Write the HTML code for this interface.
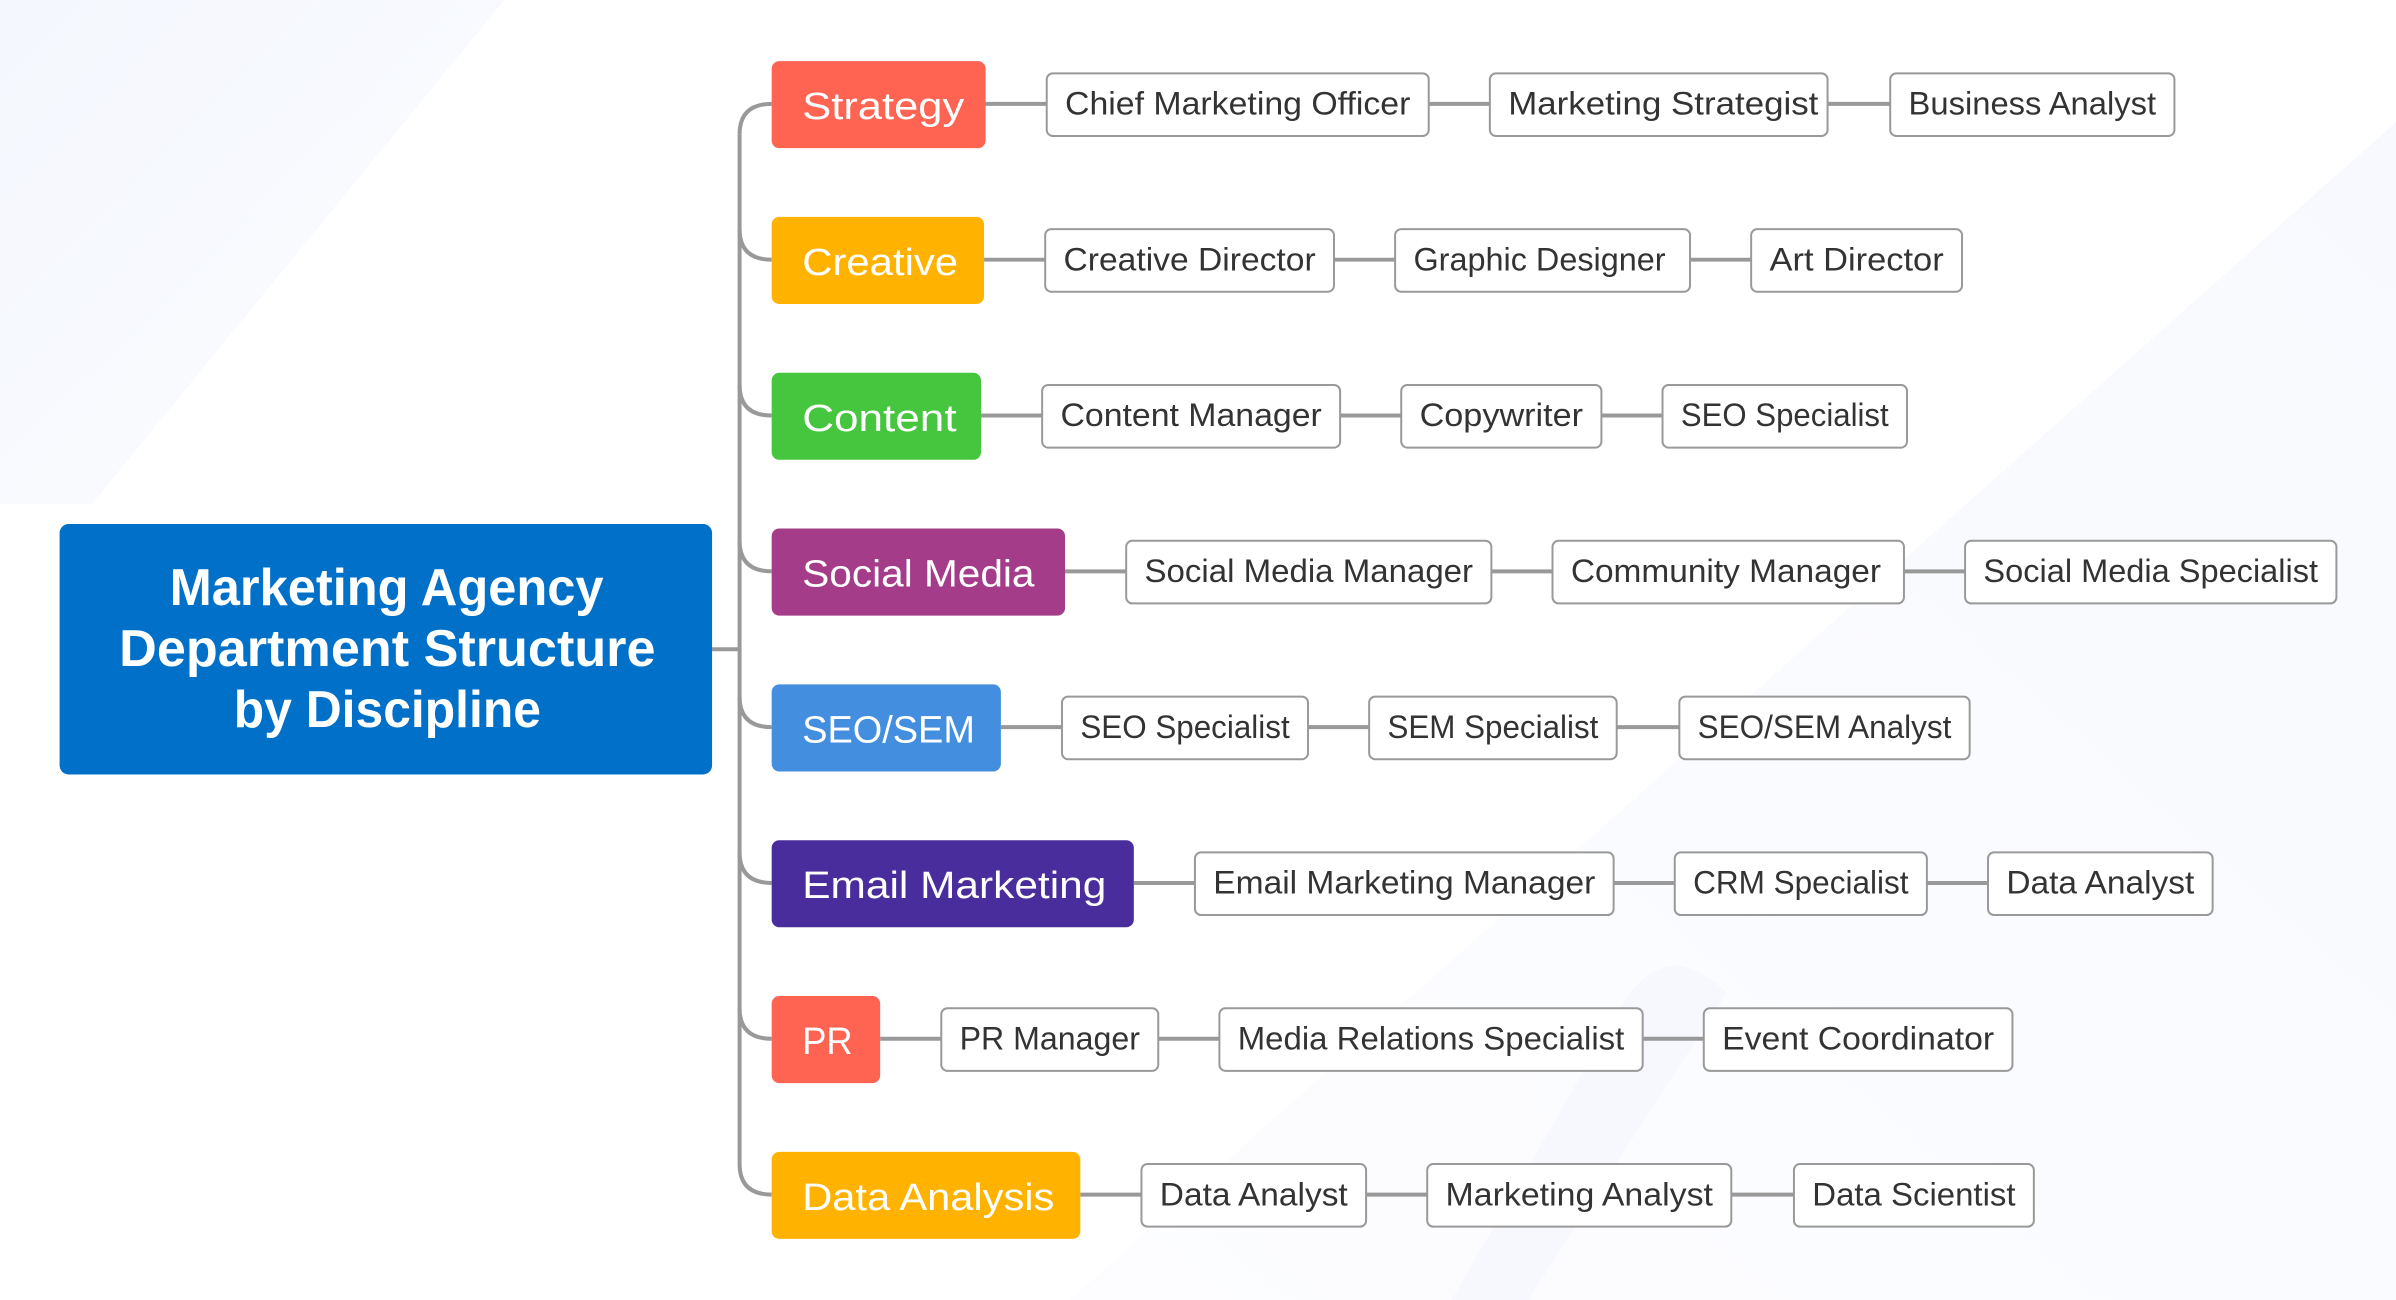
<!DOCTYPE html>
<html><head><meta charset="utf-8"><style>
html,body{margin:0;padding:0;background:#fff;width:2396px;height:1300px;overflow:hidden}
svg{display:block}
.c{font-family:"Liberation Sans",sans-serif;font-size:21px;fill:#333}
.k{font-family:"Liberation Sans",sans-serif;font-size:25px;fill:#fff}
.b{fill:#fff;stroke:#999;stroke-width:1.3}
.l{stroke:#999;stroke-width:2.6;fill:none}
</style></head><body>
<svg width="2396" height="1300" viewBox="0 0 1568 851" preserveAspectRatio="none">
<defs>
<linearGradient id="g1" x1="0" y1="0" x2="1" y2="1"><stop offset="0" stop-color="#f4f7fd"/><stop offset="1" stop-color="#fbfcff"/></linearGradient>
<linearGradient id="g2" x1="1" y1="0" x2="0" y2="1"><stop offset="0" stop-color="#f7f9fe"/><stop offset="1" stop-color="#fdfdff"/></linearGradient>
</defs>
<polygon points="0,0 330,0 60,330 0,330" fill="url(#g1)"/>
<polygon points="1568,80 1568,851 700,851" fill="url(#g2)"/>
<path d="M950,851 L1060,660 Q1090,610 1130,650 L1000,851Z" fill="#f6f8fd"/>
<g class="l">
<line x1="466" y1="425" x2="484" y2="425"/>
<line x1="484" y1="88" x2="484" y2="762"/>
<path d="M505,68 Q484,68 484,88"/>
<path d="M484,762 Q484,782 505,782"/>
<path d="M484,150 Q484,170 505,170"/>
<path d="M484,252 Q484,272 505,272"/>
<path d="M484,354 Q484,374 505,374"/>
<path d="M484,456 Q484,476 505,476"/>
<path d="M484,558 Q484,578 505,578"/>
<path d="M484,660 Q484,680 505,680"/>
<line x1="645" y1="68" x2="1237" y2="68"/>
<line x1="644" y1="170" x2="1146" y2="170"/>
<line x1="642" y1="272" x2="1088" y2="272"/>
<line x1="697" y1="374" x2="1286" y2="374"/>
<line x1="655" y1="476" x2="1099" y2="476"/>
<line x1="742" y1="578" x2="1301" y2="578"/>
<line x1="576" y1="680" x2="1115" y2="680"/>
<line x1="707" y1="782" x2="1174" y2="782"/>
</g>
<rect x="39" y="343" width="427" height="164" rx="6" fill="#0070C8"/>
<g font-family="Liberation Sans,sans-serif" font-weight="bold" font-size="34" fill="#fff">
<text x="111" y="396" textLength="284" lengthAdjust="spacingAndGlyphs">Marketing Agency</text>
<text x="78" y="436" textLength="351" lengthAdjust="spacingAndGlyphs">Department Structure</text>
<text x="153" y="476" textLength="201" lengthAdjust="spacingAndGlyphs">by Discipline</text>
</g>
<rect x="505" y="40" width="140" height="57" rx="5" fill="#FF6352"/>
<text class="k" x="525" y="78" textLength="106" lengthAdjust="spacingAndGlyphs">Strategy</text>
<rect x="505" y="142" width="139" height="57" rx="5" fill="#FFB300"/>
<text class="k" x="525" y="180" textLength="102" lengthAdjust="spacingAndGlyphs">Creative</text>
<rect x="505" y="244" width="137" height="57" rx="5" fill="#46C63E"/>
<text class="k" x="525" y="282" textLength="101" lengthAdjust="spacingAndGlyphs">Content</text>
<rect x="505" y="346" width="192" height="57" rx="5" fill="#A53C8A"/>
<text class="k" x="525" y="384" textLength="152" lengthAdjust="spacingAndGlyphs">Social Media</text>
<rect x="505" y="448" width="150" height="57" rx="5" fill="#438EDF"/>
<text class="k" x="525" y="486" textLength="113" lengthAdjust="spacingAndGlyphs">SEO/SEM</text>
<rect x="505" y="550" width="237" height="57" rx="5" fill="#4A2D9C"/>
<text class="k" x="525" y="588" textLength="199" lengthAdjust="spacingAndGlyphs">Email Marketing</text>
<rect x="505" y="652" width="71" height="57" rx="5" fill="#FF6352"/>
<text class="k" x="525" y="690" textLength="33" lengthAdjust="spacingAndGlyphs">PR</text>
<rect x="505" y="754" width="202" height="57" rx="5" fill="#FFB300"/>
<text class="k" x="525" y="792" textLength="165" lengthAdjust="spacingAndGlyphs">Data Analysis</text>
<g>
<rect class="b" x="685" y="48" width="250" height="41" rx="4"/><text class="c" x="697" y="75" textLength="226" lengthAdjust="spacingAndGlyphs">Chief Marketing Officer</text>
<rect class="b" x="975" y="48" width="221" height="41" rx="4"/><text class="c" x="987" y="75" textLength="203" lengthAdjust="spacingAndGlyphs">Marketing Strategist</text>
<rect class="b" x="1237" y="48" width="186" height="41" rx="4"/><text class="c" x="1249" y="75" textLength="162" lengthAdjust="spacingAndGlyphs">Business Analyst</text>

<rect class="b" x="684" y="150" width="189" height="41" rx="4"/><text class="c" x="696" y="177" textLength="165" lengthAdjust="spacingAndGlyphs">Creative Director</text>
<rect class="b" x="913" y="150" width="193" height="41" rx="4"/><text class="c" x="925" y="177" textLength="165" lengthAdjust="spacingAndGlyphs">Graphic Designer</text>
<rect class="b" x="1146" y="150" width="138" height="41" rx="4"/><text class="c" x="1158" y="177" textLength="114" lengthAdjust="spacingAndGlyphs">Art Director</text>

<rect class="b" x="682" y="252" width="195" height="41" rx="4"/><text class="c" x="694" y="279" textLength="171" lengthAdjust="spacingAndGlyphs">Content Manager</text>
<rect class="b" x="917" y="252" width="131" height="41" rx="4"/><text class="c" x="929" y="279" textLength="107" lengthAdjust="spacingAndGlyphs">Copywriter</text>
<rect class="b" x="1088" y="252" width="160" height="41" rx="4"/><text class="c" x="1100" y="279" textLength="136" lengthAdjust="spacingAndGlyphs">SEO Specialist</text>

<rect class="b" x="737" y="354" width="239" height="41" rx="4"/><text class="c" x="749" y="381" textLength="215" lengthAdjust="spacingAndGlyphs">Social Media Manager</text>
<rect class="b" x="1016" y="354" width="230" height="41" rx="4"/><text class="c" x="1028" y="381" textLength="203" lengthAdjust="spacingAndGlyphs">Community Manager</text>
<rect class="b" x="1286" y="354" width="243" height="41" rx="4"/><text class="c" x="1298" y="381" textLength="219" lengthAdjust="spacingAndGlyphs">Social Media Specialist</text>

<rect class="b" x="695" y="456" width="161" height="41" rx="4"/><text class="c" x="707" y="483" textLength="137" lengthAdjust="spacingAndGlyphs">SEO Specialist</text>
<rect class="b" x="896" y="456" width="162" height="41" rx="4"/><text class="c" x="908" y="483" textLength="138" lengthAdjust="spacingAndGlyphs">SEM Specialist</text>
<rect class="b" x="1099" y="456" width="190" height="41" rx="4"/><text class="c" x="1111" y="483" textLength="166" lengthAdjust="spacingAndGlyphs">SEO/SEM Analyst</text>

<rect class="b" x="782" y="558" width="274" height="41" rx="4"/><text class="c" x="794" y="585" textLength="250" lengthAdjust="spacingAndGlyphs">Email Marketing Manager</text>
<rect class="b" x="1096" y="558" width="165" height="41" rx="4"/><text class="c" x="1108" y="585" textLength="141" lengthAdjust="spacingAndGlyphs">CRM Specialist</text>
<rect class="b" x="1301" y="558" width="147" height="41" rx="4"/><text class="c" x="1313" y="585" textLength="123" lengthAdjust="spacingAndGlyphs">Data Analyst</text>

<rect class="b" x="616" y="660" width="142" height="41" rx="4"/><text class="c" x="628" y="687" textLength="118" lengthAdjust="spacingAndGlyphs">PR Manager</text>
<rect class="b" x="798" y="660" width="277" height="41" rx="4"/><text class="c" x="810" y="687" textLength="253" lengthAdjust="spacingAndGlyphs">Media Relations Specialist</text>
<rect class="b" x="1115" y="660" width="202" height="41" rx="4"/><text class="c" x="1127" y="687" textLength="178" lengthAdjust="spacingAndGlyphs">Event Coordinator</text>

<rect class="b" x="747" y="762" width="147" height="41" rx="4"/><text class="c" x="759" y="789" textLength="123" lengthAdjust="spacingAndGlyphs">Data Analyst</text>
<rect class="b" x="934" y="762" width="199" height="41" rx="4"/><text class="c" x="946" y="789" textLength="175" lengthAdjust="spacingAndGlyphs">Marketing Analyst</text>
<rect class="b" x="1174" y="762" width="157" height="41" rx="4"/><text class="c" x="1186" y="789" textLength="133" lengthAdjust="spacingAndGlyphs">Data Scientist</text>
</g>
</svg>
</body></html>
